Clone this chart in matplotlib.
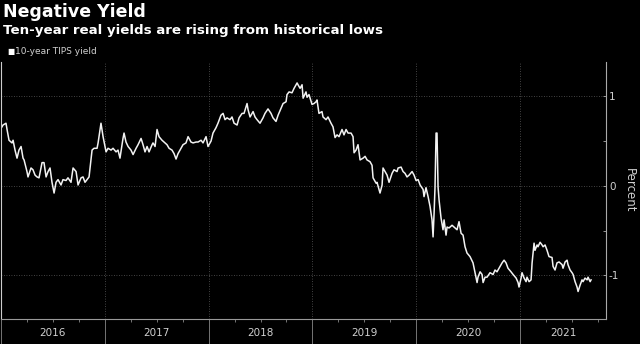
import matplotlib
matplotlib.use("Agg")
import matplotlib.pyplot as plt
from matplotlib.ticker import FixedLocator, NullFormatter

# --- data (decimal years, real yield in percent) ---
years = [
    2016.010, 2016.019, 2016.048, 2016.058, 2016.077, 2016.106, 2016.116, 2016.135, 2016.154, 2016.173,
    2016.193, 2016.212, 2016.222, 2016.250, 2016.260, 2016.289, 2016.308, 2016.328, 2016.347, 2016.366,
    2016.395, 2016.414, 2016.434, 2016.453, 2016.472, 2016.491, 2016.511, 2016.530, 2016.549, 2016.578,
    2016.597, 2016.626, 2016.645, 2016.674, 2016.694, 2016.723, 2016.742, 2016.771, 2016.790, 2016.809,
    2016.829, 2016.848, 2016.877, 2016.896, 2016.925, 2016.935, 2016.963, 2016.983, 2017.012, 2017.031,
    2017.060, 2017.079, 2017.108, 2017.127, 2017.146, 2017.175, 2017.185, 2017.204, 2017.224, 2017.252,
    2017.272, 2017.301, 2017.320, 2017.349, 2017.368, 2017.387, 2017.407, 2017.426, 2017.455, 2017.464,
    2017.484, 2017.503, 2017.522, 2017.551, 2017.570, 2017.599, 2017.619, 2017.647, 2017.667, 2017.686,
    2017.705, 2017.734, 2017.753, 2017.782, 2017.802, 2017.830, 2017.850, 2017.879, 2017.898, 2017.927,
    2017.946, 2017.975, 2017.994, 2018.023, 2018.042, 2018.071, 2018.090, 2018.119, 2018.139, 2018.158,
    2018.177, 2018.206, 2018.225, 2018.245, 2018.274, 2018.293, 2018.322, 2018.341, 2018.370, 2018.380,
    2018.399, 2018.428, 2018.447, 2018.466, 2018.495, 2018.524, 2018.543, 2018.572, 2018.601, 2018.620,
    2018.649, 2018.669, 2018.698, 2018.717, 2018.746, 2018.755, 2018.775, 2018.803, 2018.823, 2018.852,
    2018.861, 2018.881, 2018.900, 2018.910, 2018.938, 2018.948, 2018.967, 2018.996, 2019.015, 2019.035,
    2019.044, 2019.063, 2019.092, 2019.102, 2019.131, 2019.150, 2019.179, 2019.198, 2019.218, 2019.237,
    2019.256, 2019.285, 2019.304, 2019.324, 2019.343, 2019.372, 2019.391, 2019.401, 2019.420, 2019.439,
    2019.459, 2019.488, 2019.507, 2019.526, 2019.555, 2019.574, 2019.584, 2019.613, 2019.622, 2019.651,
    2019.671, 2019.680, 2019.699, 2019.719, 2019.738, 2019.767, 2019.786, 2019.815, 2019.825, 2019.854,
    2019.873, 2019.892, 2019.911, 2019.931, 2019.960, 2019.979, 2019.998, 2020.018, 2020.037, 2020.066,
    2020.075, 2020.094, 2020.114, 2020.133, 2020.152, 2020.162, 2020.172, 2020.181, 2020.191, 2020.200,
    2020.210, 2020.220, 2020.239, 2020.258, 2020.268, 2020.287, 2020.297, 2020.316, 2020.345, 2020.364,
    2020.393, 2020.412, 2020.432, 2020.451, 2020.470, 2020.489, 2020.518, 2020.547, 2020.566, 2020.586,
    2020.595, 2020.615, 2020.634, 2020.644, 2020.663, 2020.682, 2020.711, 2020.740, 2020.759, 2020.778,
    2020.798, 2020.827, 2020.846, 2020.865, 2020.884, 2020.913, 2020.933, 2020.962, 2020.981, 2020.990,
    2021.010, 2021.019, 2021.039, 2021.058, 2021.067, 2021.087, 2021.106, 2021.116, 2021.125, 2021.135,
    2021.144, 2021.164, 2021.173, 2021.193, 2021.212, 2021.222, 2021.241, 2021.260, 2021.279, 2021.308,
    2021.318, 2021.337, 2021.356, 2021.376, 2021.405, 2021.414, 2021.434, 2021.453, 2021.462, 2021.482,
    2021.501, 2021.511, 2021.530, 2021.549, 2021.559, 2021.578, 2021.597, 2021.607, 2021.626, 2021.646,
    2021.655, 2021.675, 2021.684,
]
tips_yield = [
    0.66, 0.68, 0.70, 0.63, 0.51, 0.48, 0.51, 0.40, 0.31, 0.40,
    0.44, 0.31, 0.29, 0.16, 0.10, 0.20, 0.18, 0.12, 0.10, 0.09,
    0.26, 0.26, 0.10, 0.16, 0.20, 0.04, -0.08, 0.04, 0.07, 0.01,
    0.07, 0.06, 0.09, 0.04, 0.20, 0.16, 0.01, 0.09, 0.10, 0.04,
    0.07, 0.10, 0.40, 0.42, 0.42, 0.48, 0.70, 0.55, 0.38, 0.42,
    0.40, 0.42, 0.38, 0.40, 0.31, 0.53, 0.59, 0.49, 0.44, 0.40,
    0.35, 0.42, 0.46, 0.53, 0.46, 0.38, 0.44, 0.38, 0.46, 0.48,
    0.44, 0.63, 0.55, 0.51, 0.49, 0.46, 0.42, 0.40, 0.36, 0.30,
    0.36, 0.42, 0.46, 0.48, 0.55, 0.49, 0.48, 0.49, 0.49, 0.51,
    0.48, 0.55, 0.44, 0.50, 0.59, 0.65, 0.70, 0.79, 0.81, 0.74,
    0.76, 0.74, 0.77, 0.70, 0.68, 0.76, 0.81, 0.81, 0.92, 0.85,
    0.77, 0.83, 0.77, 0.74, 0.70, 0.76, 0.81, 0.86, 0.81, 0.76,
    0.72, 0.79, 0.87, 0.92, 0.94, 1.02, 1.05, 1.04, 1.09, 1.15,
    1.13, 1.09, 1.13, 0.98, 1.05, 0.99, 1.02, 0.91, 0.92, 0.94,
    0.96, 0.81, 0.83, 0.77, 0.74, 0.77, 0.70, 0.66, 0.54, 0.57,
    0.55, 0.63, 0.57, 0.63, 0.59, 0.59, 0.55, 0.37, 0.40, 0.46,
    0.29, 0.31, 0.33, 0.29, 0.27, 0.23, 0.09, 0.03, 0.04, -0.08,
    0.01, 0.20, 0.16, 0.12, 0.04, 0.14, 0.18, 0.16, 0.20, 0.21,
    0.16, 0.14, 0.10, 0.12, 0.16, 0.12, 0.06, 0.07, 0.01, -0.04,
    -0.12, -0.02, -0.12, -0.23, -0.38, -0.57, -0.30, -0.01, 0.59, 0.59,
    -0.01, -0.16, -0.36, -0.49, -0.38, -0.55, -0.46, -0.47, -0.44, -0.46,
    -0.49, -0.40, -0.53, -0.55, -0.68, -0.75, -0.79, -0.86, -0.97, -1.08,
    -1.02, -0.96, -0.99, -1.08, -1.02, -1.02, -0.97, -0.99, -0.94, -0.96,
    -0.92, -0.86, -0.83, -0.86, -0.92, -0.96, -0.99, -1.03, -1.08, -1.13,
    -1.03, -0.97, -1.03, -1.07, -1.02, -1.07, -1.05, -0.86, -0.75, -0.64,
    -0.72, -0.66, -0.68, -0.63, -0.66, -0.68, -0.66, -0.72, -0.79, -0.80,
    -0.90, -0.94, -0.86, -0.85, -0.88, -0.92, -0.85, -0.83, -0.88, -0.94,
    -0.97, -0.99, -1.07, -1.13, -1.18, -1.11, -1.05, -1.07, -1.03, -1.05,
    -1.02, -1.07, -1.05,
]
year_labels = ["2016", "2017", "2018", "2019", "2020", "2021"]
y_ticks = [-1, 0, 1]
title = "Negative Yield"
subtitle = "Ten-year real yields are rising from historical lows"
legend_label = "10-year TIPS yield"
y_label = "Percent"

# --- figure ---
BG = "black"
TXT = "#d0d0d0"
fig = plt.figure(figsize=(6.4, 3.44), dpi=100, facecolor=BG)
ax = fig.add_axes([0.0016, 0.073, 0.9456, 0.747], facecolor=BG)

ax.plot(years, tips_yield, color="#f2f2f2", lw=1.1, solid_joinstyle="round")

x_start = int(year_labels[0])
x_end = 2021.83
ax.set_xlim(x_start, x_end)
ax.set_ylim(-1.486, 1.385)

# x axis: year boundaries as long separators, quarters as minor ticks
bounds = [x_start + i for i in range(len(year_labels))]
quarters = [b + q for b in bounds for q in (0.25, 0.5, 0.75) if b + q < x_end]
ax.xaxis.set_major_locator(FixedLocator(bounds))
ax.xaxis.set_minor_locator(FixedLocator(quarters))
ax.xaxis.set_major_formatter(NullFormatter())
ax.tick_params(axis="x", which="major", direction="out", length=19, width=0.6, color="#888888")
ax.tick_params(axis="x", which="minor", direction="out", length=2.5, width=0.6, color="#888888")
for i, lab in enumerate(year_labels):
    lo = bounds[i]
    hi = min(lo + 1, x_end)
    ax.text((lo + hi) / 2, -0.055, lab, transform=ax.get_xaxis_transform(),
            ha="center", va="center", color=TXT, fontsize=7.5)

# y axis on right
ax.yaxis.tick_right()
ax.yaxis.set_label_position("right")
ax.set_yticks(y_ticks)
ax.set_yticklabels([str(v) for v in y_ticks])
ax.yaxis.set_minor_locator(FixedLocator([-0.5, 0.5]))
ax.tick_params(axis="y", which="both", direction="in", length=2.5, width=0.6,
               color="#aaaaaa", labelcolor=TXT, labelsize=7.5, pad=2)
ax.set_ylabel(y_label, color=TXT, fontsize=8.5, rotation=270, labelpad=12)

# grid
ax.grid(True, which="major", color="#5a5a5a", linestyle=(0, (1, 2)), linewidth=0.6)

ax.spines["top"].set_visible(False)
ax.spines["left"].set_color("#cccccc")
ax.spines["left"].set_linewidth(0.8)
ax.spines["right"].set_color("#aaaaaa")
ax.spines["right"].set_linewidth(0.8)
ax.spines["bottom"].set_color("#999999")
ax.spines["bottom"].set_linewidth(0.8)

# titles and legend
fig.text(0.005, 0.965, title, color="white", fontsize=12.5, fontweight="bold",
         ha="left", va="center", family="DejaVu Sans")
fig.text(0.005, 0.912, subtitle, color="white", fontsize=9.6, fontweight="bold",
         ha="left", va="center", family="DejaVu Sans")
fig.text(0.011, 0.85, "\u25A0", color="white", fontsize=5.5, ha="left", va="center")
fig.text(0.024, 0.849, legend_label, color=TXT, fontsize=6.5, ha="left", va="center")

fig.savefig("out.png", dpi=100, facecolor=BG)
